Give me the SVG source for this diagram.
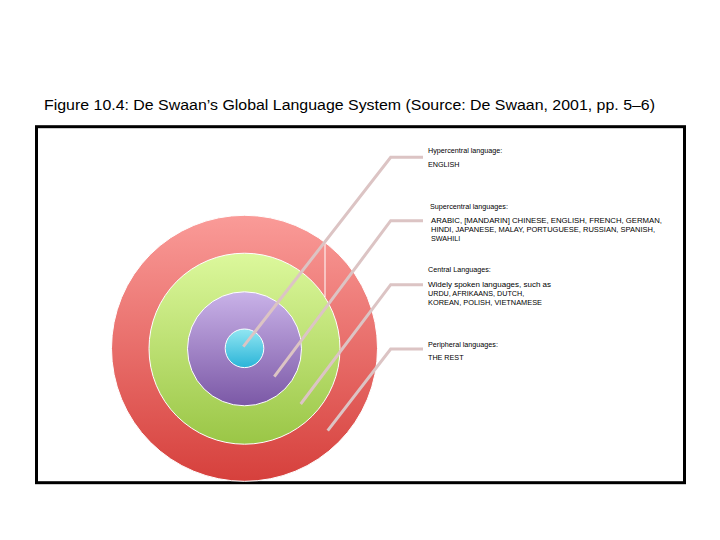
<svg xmlns="http://www.w3.org/2000/svg" width="720" height="540" viewBox="0 0 720 540">
<style>
.title{font-family:"Liberation Sans",Arial,sans-serif;font-size:15.5px;fill:#000}
.lbl{font-family:"Liberation Sans",Arial,sans-serif;font-size:7.2px;fill:#000}
.conn{fill:none;stroke:#dcc4c4;stroke-width:3;stroke-linejoin:miter}
.ring{stroke:#ffffff;stroke-width:1}
</style>
<defs>
<linearGradient id="gRed" x1="0" y1="0" x2="0" y2="1"><stop offset="0" stop-color="#fa9b98"/><stop offset="1" stop-color="#d6403c"/></linearGradient>
<linearGradient id="gGreen" x1="0" y1="0" x2="0" y2="1"><stop offset="0" stop-color="#dcf89c"/><stop offset="1" stop-color="#9ac646"/></linearGradient>
<linearGradient id="gPurple" x1="0" y1="0" x2="0" y2="1"><stop offset="0" stop-color="#c9b2e8"/><stop offset="1" stop-color="#7b58a6"/></linearGradient>
<linearGradient id="gCyan" x1="0" y1="0" x2="0" y2="1"><stop offset="0" stop-color="#92e6f2"/><stop offset="1" stop-color="#2ab4d8"/></linearGradient>
</defs>
<rect width="720" height="540" fill="#ffffff"/>
<text class="title" x="44" y="110" textLength="611" lengthAdjust="spacingAndGlyphs">Figure 10.4: De Swaan’s Global Language System (Source: De Swaan, 2001, pp. 5–6)</text>
<rect x="36.5" y="126.7" width="648" height="356" fill="none" stroke="#000" stroke-width="3"/>
<g id="peripheral"><circle class="ring" cx="244.5" cy="348.3" r="133" fill="url(#gRed)"/></g>
<line x1="325" y1="243" x2="325" y2="297" stroke="#ffffff" stroke-width="1"/>
<g id="central"><circle class="ring" cx="244.5" cy="348.7" r="95.5" fill="url(#gGreen)"/></g>
<g id="supercentral"><circle class="ring" cx="244.5" cy="348.8" r="57" fill="url(#gPurple)"/></g>
<g id="hypercentral"><circle class="ring" cx="244.5" cy="348.3" r="19.3" fill="url(#gCyan)"/></g>
<g id="connectors">
<polyline class="conn" points="243.3,346.7 390.7,157.3 423,157.3"/>
<polyline class="conn" points="274.3,376.7 390.7,220.7 423,220.7"/>
<polyline class="conn" points="300.7,404 390.7,284.7 423,284.7"/>
<polyline class="conn" points="327.7,430.7 390.7,349 423,349"/>
</g>
<g id="label-hyper">
<text class="lbl" x="428" y="152.5">Hypercentral language:</text>
<text class="lbl" x="428" y="167">ENGLISH</text>
</g>
<g id="label-super">
<text class="lbl" x="430" y="208.5">Supercentral languages:</text>
<text class="lbl" x="431" y="222.5" textLength="231" lengthAdjust="spacingAndGlyphs">ARABIC, [MANDARIN] CHINESE, ENGLISH, FRENCH, GERMAN,</text>
<text class="lbl" x="431" y="231.5" textLength="224" lengthAdjust="spacingAndGlyphs">HINDI, JAPANESE, MALAY, PORTUGUESE, RUSSIAN, SPANISH,</text>
<text class="lbl" x="431" y="240.5">SWAHILI</text>
</g>
<g id="label-central">
<text class="lbl" x="428" y="272">Central Languages:</text>
<text class="lbl" x="428" y="287" textLength="123" lengthAdjust="spacingAndGlyphs">Widely spoken languages, such as</text>
<text class="lbl" x="428" y="296">URDU, AFRIKAANS, DUTCH,</text>
<text class="lbl" x="428" y="305" textLength="114" lengthAdjust="spacingAndGlyphs">KOREAN, POLISH, VIETNAMESE</text>
</g>
<g id="label-peripheral">
<text class="lbl" x="428" y="346.5">Peripheral languages:</text>
<text class="lbl" x="428" y="360">THE REST</text>
</g>
</svg>
